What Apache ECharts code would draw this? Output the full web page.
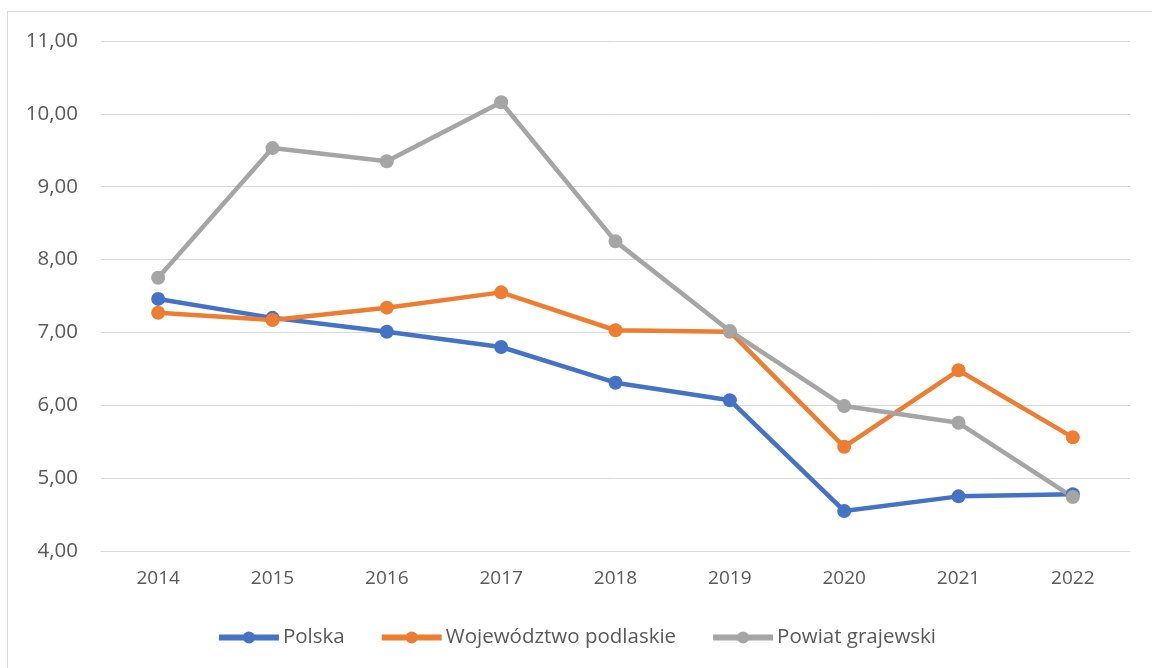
<!DOCTYPE html>
<html lang="pl">
<head>
<meta charset="UTF-8">
<title>Wykres</title>
<style>
  html, body { margin: 0; padding: 0; background: #fff; }
  #frame { position: absolute; left: 7px; top: 11px; width: 1160px; height: 680px; border: 1px solid #d9d9d9; }
  #main { position: absolute; left: 0; top: 0; width: 1152px; height: 668px; }
</style>
</head>
<body>
<div id="frame"></div>
<div id="main"></div>
<script src="https://cdn.jsdelivr.net/npm/echarts@6/dist/echarts.min.js"></script>
<script>
var years = ['2014', '2015', '2016', '2017', '2018', '2019', '2020', '2021', '2022'];
var polska = [7.46, 7.20, 7.01, 6.80, 6.31, 6.07, 4.55, 4.75, 4.78];
var podlaskie = [7.27, 7.17, 7.34, 7.55, 7.03, 7.01, 5.43, 6.48, 5.56];
var grajewski = [7.75, 9.53, 9.35, 10.16, 8.25, 7.02, 5.99, 5.76, 4.74];

var myChart = echarts.init(document.getElementById('main'));

function line(name, data, color) {
    return {
        name: name,
        type: 'line',
        data: data,
        symbol: 'circle',
        symbolSize: 14,
        itemStyle: { color: color },
        lineStyle: { width: 4.5, color: color },
        emphasis: { disabled: true }
    };
}

myChart.setOption({
    backgroundColor: 'transparent',
    animation: false,
    textStyle: { fontFamily: 'Open Sans, Noto Sans, sans-serif' },
    grid: { left: 101, right: 22, top: 41, bottom: 117, containLabel: false },
    legend: {
        bottom: 15,
        left: 'center',
        itemWidth: 60,
        itemHeight: 15,
        itemGap: 34,
        lineStyle: { width: 6 },
        textStyle: { color: '#595959', fontSize: 20.5, fontFamily: 'Open Sans, Noto Sans, sans-serif', padding: [0, 0, 0, -1] },
        data: ['Polska', 'Województwo podlaskie', 'Powiat grajewski']
    },
    xAxis: {
        type: 'category',
        data: years,
        boundaryGap: true,
        axisLine: { lineStyle: { color: '#d9d9d9', width: 1 } },
        axisTick: { show: false },
        axisLabel: { color: '#595959', fontSize: 19, margin: 18 }
    },
    yAxis: {
        type: 'value',
        min: 4,
        max: 11,
        interval: 1,
        axisLine: { show: false },
        axisTick: { show: false },
        splitLine: { lineStyle: { color: '#d9d9d9', width: 1 } },
        axisLabel: {
            color: '#595959',
            fontSize: 20.5,
            margin: 23,
            formatter: function (v) { return v.toFixed(2).replace('.', ','); }
        }
    },
    series: [
        line('Polska', polska, '#4472c4'),
        line('Województwo podlaskie', podlaskie, '#ed7d31'),
        line('Powiat grajewski', grajewski, '#a5a5a5')
    ]
});
</script>
</body>
</html>
